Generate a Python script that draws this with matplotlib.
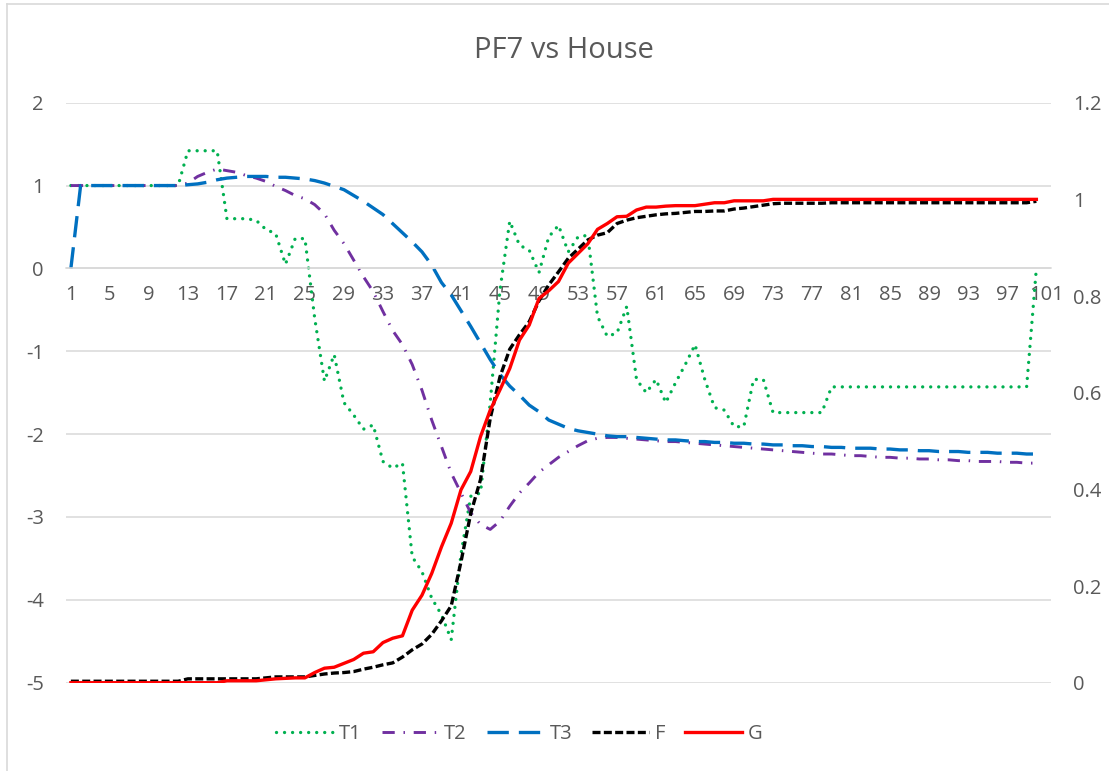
import matplotlib
matplotlib.use("Agg")
import matplotlib.pyplot as plt
from matplotlib.lines import Line2D
import numpy as np

plt.rcParams['font.family'] = ['Open Sans', 'DejaVu Sans']

# categories 1..100 (axis shows labels up to 101)
x = np.arange(1, 101)

t1 = [1.0, 1.0, 1.0, 1.0, 1.0, 1.0, 1.0, 1.0, 1.0, 1.0, 1.0, 1.0,
      1.42, 1.42, 1.42, 1.42, 0.6, 0.6, 0.6, 0.58, 0.47, 0.42, 0.05, 0.36,
      0.36, -0.6, -1.36, -1.04, -1.62, -1.77, -1.94, -1.89, -2.33, -2.41,
      -2.35, -3.48, -3.66, -3.98, -4.18, -4.48, -3.45, -2.75, -2.71, -1.62,
      -0.26, 0.57, 0.28, 0.22, -0.05, 0.38, 0.52, 0.2, 0.38, 0.4, -0.58,
      -0.82, -0.78, -0.46, -1.34, -1.5, -1.34, -1.62, -1.38, -1.16, -0.92,
      -1.34, -1.68, -1.71, -1.91, -1.91, -1.34, -1.34, -1.74, -1.74, -1.74,
      -1.74, -1.74, -1.74, -1.43, -1.43, -1.43, -1.43, -1.43, -1.43, -1.43,
      -1.43, -1.43, -1.43, -1.43, -1.43, -1.43, -1.43, -1.43, -1.43, -1.43,
      -1.43, -1.43, -1.43, -1.43, 0.0]

t2 = [1.0, 1.0, 1.0, 1.0, 1.0, 1.0, 1.0, 1.0, 1.0, 1.0, 1.0, 1.0,
      1.03, 1.11, 1.16, 1.2, 1.18, 1.16, 1.12, 1.09, 1.05, 0.99, 0.94, 0.88,
      0.84, 0.77, 0.66, 0.46, 0.3, 0.1, -0.1, -0.28, -0.52, -0.75, -0.92,
      -1.16, -1.47, -1.83, -2.15, -2.47, -2.71, -2.95, -3.09, -3.15, -3.05,
      -2.87, -2.71, -2.59, -2.46, -2.37, -2.28, -2.21, -2.14, -2.08, -2.05,
      -2.04, -2.04, -2.05, -2.06, -2.07, -2.08, -2.09, -2.09, -2.10, -2.11,
      -2.12, -2.13, -2.14, -2.15, -2.16, -2.17, -2.18, -2.19, -2.20, -2.21,
      -2.22, -2.23, -2.24, -2.24, -2.25, -2.26, -2.26, -2.27, -2.28, -2.28,
      -2.29, -2.29, -2.30, -2.30, -2.31, -2.31, -2.32, -2.32, -2.33, -2.33,
      -2.33, -2.34, -2.34, -2.35, -2.35]

t3 = [0.0, 1.0, 1.0, 1.0, 1.0, 1.0, 1.0, 1.0, 1.0, 1.0, 1.0, 1.0,
      1.01, 1.02, 1.04, 1.07, 1.09, 1.10, 1.11, 1.11, 1.11, 1.10, 1.10, 1.09,
      1.08, 1.06, 1.03, 0.99, 0.95, 0.88, 0.81, 0.73, 0.65, 0.54, 0.43,
      0.32, 0.2, 0.04, -0.17, -0.32, -0.51, -0.7, -0.9, -1.1, -1.28, -1.42,
      -1.53, -1.65, -1.73, -1.83, -1.88, -1.93, -1.96, -1.98, -2.0, -2.02,
      -2.03, -2.03, -2.04, -2.05, -2.06, -2.07, -2.07, -2.08, -2.09, -2.09,
      -2.10, -2.10, -2.11, -2.11, -2.12, -2.12, -2.13, -2.13, -2.14, -2.14,
      -2.15, -2.15, -2.16, -2.16, -2.17, -2.17, -2.17, -2.18, -2.18, -2.19,
      -2.19, -2.20, -2.20, -2.21, -2.21, -2.21, -2.22, -2.22, -2.22, -2.23,
      -2.23, -2.23, -2.24, -2.24]

f = [0.003, 0.003, 0.003, 0.003, 0.003, 0.003, 0.003, 0.003, 0.003, 0.003,
     0.003, 0.003, 0.008, 0.008, 0.008, 0.008, 0.008, 0.008, 0.008, 0.008,
     0.010, 0.012, 0.012, 0.012, 0.012, 0.015, 0.018, 0.02, 0.021, 0.023,
     0.028, 0.032, 0.037, 0.041, 0.053, 0.068, 0.08, 0.10, 0.128, 0.159,
     0.25, 0.35, 0.42, 0.547, 0.633, 0.69, 0.72, 0.747, 0.79, 0.823, 0.85,
     0.878, 0.897, 0.916, 0.926, 0.931, 0.95, 0.957, 0.962, 0.965, 0.968,
     0.97, 0.971, 0.973, 0.975, 0.975, 0.976, 0.976, 0.98, 0.982, 0.985,
     0.988, 0.991, 0.992, 0.992, 0.992, 0.992, 0.992, 0.993, 0.993, 0.993,
     0.993, 0.993, 0.993, 0.993, 0.993, 0.993, 0.993, 0.993, 0.993, 0.993,
     0.993, 0.993, 0.993, 0.993, 0.993, 0.993, 0.993, 0.993, 0.996]

g = [0.0, 0.0, 0.0, 0.0, 0.0, 0.0, 0.0, 0.0, 0.0, 0.0, 0.0, 0.0, 0.0, 0.0,
     0.0, 0.0, 0.004, 0.004, 0.004, 0.004, 0.006, 0.008, 0.009, 0.01, 0.01,
     0.021, 0.03, 0.032, 0.04, 0.048, 0.061, 0.064, 0.083, 0.092, 0.097,
     0.15, 0.181, 0.226, 0.281, 0.33, 0.399, 0.437, 0.509, 0.564, 0.606,
     0.65, 0.709, 0.74, 0.795, 0.811, 0.83, 0.868, 0.888, 0.908, 0.938,
     0.95, 0.964, 0.965, 0.978, 0.984, 0.984, 0.986, 0.987, 0.987, 0.987,
     0.99, 0.993, 0.993, 0.997, 0.997, 0.997, 0.997, 1.0, 1.0, 1.0, 1.0,
     1.0, 1.0, 1.0, 1.0, 1.0, 1.0, 1.0, 1.0, 1.0, 1.0, 1.0, 1.0, 1.0, 1.0,
     1.0, 1.0, 1.0, 1.0, 1.0, 1.0, 1.0, 1.0, 1.0, 1.0]

x_ticks = list(range(1, 102, 4))
left_ticks = [-5, -4, -3, -2, -1, 0, 1, 2]
right_ticks = [0, 0.2, 0.4, 0.6, 0.8, 1.0, 1.2]
right_labels = ['0', '0.2', '0.4', '0.6', '0.8', '1', '1.2']

GREY = '#595959'
GRID = '#D9D9D9'

fig = plt.figure(figsize=(11.09, 7.71), dpi=100)
ax = fig.add_axes([66 / 1109, (771 - 682.7) / 771, 985 / 1109, 580 / 771])
ax2 = ax.twinx()

# primary axis series
ax.plot(x, t1, color='#00B050', lw=2.4, linestyle=(0, (0.01, 2.4)),
        dash_capstyle='round', solid_capstyle='round', label='T1')
ax.plot(x, t2, color='#7030A0', lw=2.1, linestyle=(0, (4.2, 3.0, 0.5, 3.0)),
        label='T2')
ax.plot(x, t3, color='#0070C0', lw=2.4, linestyle=(0, (6.4, 3.0)),
        label='T3')

# secondary axis series
ax2.plot(x, f, color='black', lw=2.4, linestyle=(0, (2.4, 1.0)), label='F')
ax2.plot(x, g, color='#FF0000', lw=2.4, label='G')

ax.set_xlim(0.5, 101.5)
ax.set_ylim(-5, 2)
ax2.set_ylim(0, 1.2)

ax.set_yticks(left_ticks)
ax.set_yticklabels([str(v) for v in left_ticks])
ax2.set_yticks(right_ticks)
ax2.set_yticklabels(right_labels)
ax.set_xticks(x_ticks)
ax.set_xticklabels([str(v) for v in x_ticks])

ax.grid(axis='y', color=GRID, lw=1.1)
ax.set_axisbelow(True)
for s in ['top', 'right', 'left']:
    ax.spines[s].set_visible(False)
    ax2.spines[s].set_visible(False)
ax2.spines['bottom'].set_visible(False)
ax.spines['bottom'].set_position(('data', 0))
ax.spines['bottom'].set_color(GRID)
ax.spines['bottom'].set_linewidth(1.1)

ax.tick_params(axis='x', length=0, pad=12, labelsize=14.5, labelcolor=GREY)
ax.tick_params(axis='y', length=0, pad=16, labelsize=14.5, labelcolor=GREY)
ax2.tick_params(axis='y', length=0, pad=16, labelsize=14.5, labelcolor=GREY)

fig.text(0.5085, 1 - 51 / 771, 'PF7 vs House', ha='center', va='center',
         fontsize=21, color=GREY)

h1, l1 = ax.get_legend_handles_labels()
h2, l2 = ax2.get_legend_handles_labels()
fig.legend(h1 + h2, l1 + l2, loc='center',
           bbox_to_anchor=(0.5 - 35 / 1109, 1 - 734 / 771),
           ncol=5, frameon=False, fontsize=14.5, labelcolor=GREY,
           handlelength=2.8, handletextpad=0.3, columnspacing=1.0)

# chart area border (left and top edges visible)
fig.add_artist(Line2D([7 / 1109, 7 / 1109], [0, 1 - 4 / 771], color=GRID, lw=1.2))
fig.add_artist(Line2D([7 / 1109, 1], [1 - 4 / 771, 1 - 4 / 771], color=GRID, lw=1.2))

fig.savefig('out.png', dpi=100)
